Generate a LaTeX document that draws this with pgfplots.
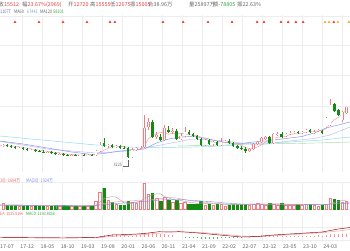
\documentclass[border=0pt]{standalone}
\usepackage{pgfplots}
\usepackage{pgfplotstable}
\pgfplotsset{compat=1.18}
\usepackage{fontspec}
\setmainfont{Liberation Sans}
\newfontfamily\cjk{Noto Sans CJK SC}
\newfontfamily\cjkn[FakeStretch=0.8]{Noto Sans CJK SC}
\definecolor{upc}{HTML}{F07C84}
\definecolor{dnc}{HTML}{148A14}
\definecolor{txt}{HTML}{666666}
\definecolor{redt}{HTML}{E8413C}
\definecolor{grnt}{HTML}{35A043}
\definecolor{gridc}{HTML}{EDEDED}
\definecolor{mafive}{HTML}{F29AA6}
\definecolor{maten}{HTML}{7F8FEA}
\definecolor{matwenty}{HTML}{B4BCF2}
\definecolor{masixty}{HTML}{86D6F2}
\definecolor{maonetwenty}{HTML}{A6DCA6}
\definecolor{orng}{HTML}{F5B041}
% monthly candles: m = months since 2017-01, open high low close
\pgfplotstableread{
m o h l c
5 611.7 659.9 587.6 635.8
9 563.5 587.6 539.4 575.6
12 515.3 539.4 491.2 527.4
16 467.1 491.2 443 479.2
19 418.9 443 394.8 431
22 382.8 418.9 370.7 406.9
24 382.8 406.9 370.7 394.8
26 382.8 418.9 370.7 406.9
28 394.8 515.3 370.7 491.2
29 491.2 708.1 467.1 635.8
31 611.7 659.9 563.5 635.8
33 587.6 635.8 563.5 611.7
37 346.6 563.5 334.6 515.3
38 515.3 587.6 491.2 563.5
39 563.5 611.7 539.4 611.7
40 587.6 1358.8 563.5 1045.5
41 1069.6 1286.5 997.3 1190.1
43 828.6 949.1 780.4 876.8
45 756.3 1117.8 732.2 1045.5
47 949.1 1045.5 900.9 973.2
49 780.4 925 756.3 852.7
50 852.7 1069.6 828.6 949.1
55 635.8 780.4 611.7 756.3
57 659.9 732.2 611.7 708.1
59 635.8 804.5 611.7 708.1
60 708.1 756.3 684 732.2
66 491.2 563.5 467.1 539.4
67 539.4 684 515.3 659.9
68 659.9 732.2 635.8 708.1
69 708.1 828.6 684 804.5
70 780.4 852.7 756.3 828.6
72 684 925 659.9 900.9
73 876.8 949.1 852.7 900.9
75 852.7 925 828.6 900.9
76 900.9 973.2 876.8 925
77 925 973.2 900.9 949.1
79 925 973.2 900.9 949.1
80 949.1 1021.4 925 997.3
82 949.1 997.3 900.9 961.2
83 961.2 1021.4 949.1 997.3
85 1069.6 1310.6 1045.5 1286.5
86 1117.8 1744.4 1093.7 1599.8
89 1238.3 1455.2 1190.1 1431.1
90 1407 1555.5 1383 1551.2
}\upcandles
\pgfplotstableread{
m o h l c
6 635.8 659.9 587.6 611.7
7 611.7 635.8 563.5 587.6
8 587.6 611.7 539.4 563.5
10 575.6 587.6 515.3 539.4
11 539.4 563.5 491.2 515.3
13 527.4 539.4 467.1 491.2
14 491.2 515.3 467.1 479.2
15 479.2 515.3 443 467.1
17 479.2 491.2 418.9 443
18 443 467.1 394.8 418.9
20 431 443 370.7 394.8
21 394.8 418.9 370.7 382.8
23 406.9 418.9 370.7 382.8
25 394.8 418.9 370.7 382.8
27 406.9 418.9 370.7 394.8
30 684 804.5 587.6 611.7
32 635.8 659.9 563.5 587.6
34 611.7 635.8 539.4 575.6
35 575.6 611.7 539.4 563.5
36 563.5 587.6 322.5 346.6
42 1190.1 1238.3 804.5 828.6
44 828.6 900.9 732.2 756.3
46 997.3 1093.7 925 949.1
48 973.2 1021.4 756.3 780.4
51 949.1 997.3 876.8 900.9
52 900.9 925 828.6 852.7
53 852.7 876.8 756.3 780.4
54 780.4 804.5 611.7 635.8
56 756.3 780.4 635.8 659.9
58 708.1 732.2 611.7 635.8
61 732.2 780.4 659.9 684
62 684 708.1 587.6 611.7
63 611.7 635.8 539.4 563.5
64 563.5 611.7 515.3 539.4
65 539.4 587.6 443 491.2
71 828.6 852.7 659.9 684
74 900.9 949.1 804.5 828.6
78 949.1 973.2 900.9 925
81 997.3 1021.4 925 949.1
84 973.2 997.3 900.9 925
87 1623.9 1648 1431.1 1455.2
88 1479.3 1503.4 1334.7 1358.8
}\dncandles
\pgfplotsset{panel/.style={scale only axis, width=350pt, anchor=south west, xmin=4.267, xmax=90.9,
  axis line style={draw=none}, tick style={draw=none}, grid=major, grid style={gridc, line width=0.4pt},
  xtick={9.71,14.66,19.61,24.56,29.51,34.46,39.41,44.36,49.31,54.26,59.21,64.16,69.11,74.06,79.01,83.96,88.91},
  xticklabels={}, yticklabels={}},
  candlebar/.style={draw=none, mark=none, error bars/.cd, y dir=plus, y explicit, error mark=none}}
\begin{document}
\begin{tikzpicture}
% main price panel
\begin{axis}[panel, at={(0pt,78pt)}, height=157pt, ymin=-14.9, ymax=3768.8, ytick={3744.7,3045.8,2322.8,1575.7}]
\addplot[maonetwenty, line width=0.45pt, mark=none] coordinates {(48,612)(60,636)(66,660)(78,672)(90.9,708)};
\addplot[masixty, line width=0.45pt, mark=none] coordinates {(4.3,852.7)(12,780.4)(20,708.1)(28,635.8)(36,587.6)(44,575.6)(52,587.6)(60,615)(66,672)(76,708)(84,756)(90.9,829)};
\addplot[matwenty, line width=0.45pt, mark=none] coordinates {(4.3,720.2)(16,539.4)(28,443)(36,491.2)(44,635.8)(52,780.4)(60,732.2)(68,635.8)(76,732.2)(82,792.5)(86,876.8)(90.9,1069.6)};
\addplot[maten, line width=0.45pt, mark=none] coordinates {(4.3,732.2)(10,659.9)(16,563.5)(22,467.1)(27,406.9)(30,431)(34,491.2)(37,515.3)(40,539.4)(43,684)(46,780.4)(49,828.6)(52,840.7)(55,804.5)(58,732.2)(61,684)(64,672)(67,708.1)(70,732.2)(73,768.3)(76,804.5)(79,840.6)(82,925)(85,1045.5)(88,1117.8)(90.9,1190.1)};
\addplot[mafive, line width=0.45pt, mark=none] coordinates {(4.3,623.7)(7,611.7)(9,594.8)(11,556.3)(13,529.8)(15,496)(17,471.9)(19,447.8)(21,414.1)(23,399.6)(25,390)(27,394.8)(28,414.1)(29,462.3)(30,508.1)(31,553.9)(32,592.4)(33,616.5)(34,604.5)(35,594.8)(36,537)(37,522.5)(38,512.9)(39,520.1)(40,616.5)(41,785.2)(42,847.9)(43,910.5)(44,939.5)(45,939.5)(46,891.3)(47,920.2)(48,900.9)(49,920.2)(50,900.9)(51,891.3)(52,867.2)(53,867.2)(54,823.8)(55,785.2)(56,737)(57,708.1)(58,679.2)(59,693.6)(60,688.8)(61,693.6)(62,674.4)(63,659.9)(64,626.2)(65,578)(66,549)(67,558.7)(68,587.6)(69,640.6)(70,708.1)(71,737)(72,785.2)(73,823.8)(74,828.6)(75,843.1)(76,891.3)(77,900.9)(78,905.7)(79,929.8)(80,949.1)(81,953.9)(82,956.3)(83,985.3)(84,980.4)(85,1028.6)(86,1149.1)(87,1243.1)(88,1301)(89,1402.2)(90,1464.8)};
% up candles: wick, pink body, white inside
\addplot[candlebar, error bar style={draw=upc, line width=0.4pt}] table[x=m, y=l, y error plus expr=\thisrow{h}-\thisrow{l}] {\upcandles};
\addplot[candlebar, error bar style={draw=upc, line width=2.5pt}] table[x=m, y=o, y error plus expr=\thisrow{c}-\thisrow{o}] {\upcandles};
\addplot[candlebar, error bar style={draw=white, line width=1.7pt, shorten <=0.4pt, shorten >=0.4pt}] table[x=m, y=o, y error plus expr=\thisrow{c}-\thisrow{o}] {\upcandles};
% down candles: wick and filled body
\addplot[candlebar, error bar style={draw=dnc, line width=0.4pt}] table[x=m, y=l, y error plus expr=\thisrow{h}-\thisrow{l}] {\dncandles};
\addplot[candlebar, error bar style={draw=dnc, line width=2.5pt}] table[x=m, y=c, y error plus expr=\thisrow{o}-\thisrow{c}] {\dncandles};
\addplot[only marks, mark=triangle*, mark size=1.1pt, color=redt] coordinates {(7.98,3600)(13.92,3600)(19.86,3600)(25.8,3600)(31.5,3600)(32.7,3600)(44.6,3600)(49.6,3600)(55.75,3600)(61.7,3600)(67.9,3600)(69.6,3600)(73.8,3600)(75.6,3600)(77.5,3600)(79.3,3600)(86.9,3600)};
\addplot[only marks, mark=triangle*, mark size=1.1pt, color=orng] coordinates {(84.7,3600)(85.7,3600)(87.9,3600)(90.6,3600)};
\draw[txt, line width=0.3pt] (axis cs:36,274.3) -- (axis cs:36,129.7) -- (axis cs:34.7,129.7);
\node[anchor=east, inner sep=0.5pt, font=\cjkn\fontsize{4.6}{5}\selectfont, text=txt] at (axis cs:34.6,153.8) {3225};
\end{axis}
% volume panel
\begin{axis}[panel, at={(0pt,41pt)}, height=27pt, ymin=0, ymax=9450, ytick={0,9450}]
\addplot[ybar, bar width=0.62, bar shift=0pt, draw=upc, fill=white, line width=0.4pt] coordinates {(5,2100)(9,1050)(12,1050)(16,1050)(19,1050)(22,1050)(24,1050)(26,1050)(28,2800)(29,5950)(31,3150)(33,1750)(37,2450)(38,2100)(39,2800)(40,9100)(41,5250)(43,3850)(45,4200)(47,2450)(49,2100)(50,2450)(55,1400)(57,1400)(59,1750)(60,1050)(66,1400)(67,1750)(68,2100)(69,1750)(70,1400)(72,1750)(73,1400)(75,1400)(76,1400)(77,1400)(79,1400)(80,1750)(82,1400)(83,1050)(85,1750)(86,3850)(89,2450)(90,2800)};
\addplot[ybar, bar width=0.62, bar shift=0pt, draw=dnc, fill=dnc, line width=0.4pt] coordinates {(6,1400)(7,1400)(8,1400)(10,1050)(11,1400)(13,1400)(14,1050)(15,1050)(17,1050)(18,1400)(20,1400)(21,1050)(23,1050)(25,1050)(27,1050)(30,7350)(32,2450)(34,1400)(35,1400)(36,2800)(42,5600)(44,2800)(46,3150)(48,3150)(51,1750)(52,1750)(53,1750)(54,2800)(56,1750)(58,1750)(61,1400)(62,1750)(63,1750)(64,1750)(65,1750)(71,2100)(74,2100)(78,1750)(81,1750)(84,1400)(87,3500)(88,3150)};
\addplot[gray!70, line width=0.4pt, mark=none] coordinates {(4.3,1470)(9,1470)(12,1190)(18,1120)(24,1120)(27,1050)(28,1400)(29,2380)(30,3640)(31,4060)(32,4340)(33,4130)(34,3220)(35,2030)(36,1960)(37,1960)(38,2310)(39,2590)(40,3850)(41,4340)(42,4970)(43,5320)(44,5320)(45,4340)(46,3920)(47,3290)(48,3150)(49,3010)(50,2660)(51,2380)(52,2240)(53,1960)(54,2100)(55,1890)(56,1890)(58,1820)(60,1540)(62,1540)(64,1680)(66,1680)(68,1750)(70,1680)(72,1820)(74,1750)(76,1610)(78,1610)(80,1540)(82,1610)(84,1470)(85,1470)(86,1890)(87,2310)(88,2730)(89,2940)(90,3150)};
\addplot[mafive, line width=0.4pt, mark=none] coordinates {(4.3,1330)(15,1190)(25,1120)(28,1330)(30,1925)(33,2520)(36,2800)(38,2940)(40,3080)(42,3360)(44,3640)(46,4025)(48,3850)(50,3255)(52,2800)(54,2450)(56,2170)(58,1925)(60,1750)(64,1610)(68,1680)(72,1750)(76,1680)(80,1575)(84,1540)(86,1750)(88,2100)(90.9,2275)};
\addplot[maten, line width=0.4pt, mark=none] coordinates {(4.3,1330)(20,1190)(28,1260)(32,1750)(36,2275)(40,2625)(44,3150)(48,3430)(52,3010)(56,2625)(60,2100)(64,1750)(68,1680)(72,1680)(76,1680)(80,1645)(84,1575)(88,1820)(90.9,1925)};
\end{axis}
% MACD panel
\begin{axis}[panel, at={(0pt,8pt)}, height=26pt, ymin=-5, ymax=21, ytick={10,-3},
  extra x ticks={6,11,16,21,26,31,36,41,46,51,56,61,66,71,76,81,86,91},
  extra x tick labels={17-07,17-12,18-05,18-10,19-03,19-08,20-01,20-06,20-11,21-04,21-09,22-02,22-07,22-12,23-05,23-10,24-03,24-08},
  extra x tick style={grid=none, xticklabel style={font=\cjk\fontsize{5.3}{6}\selectfont, text=txt, anchor=base, yshift=-6.3pt, inner sep=0pt}}]
\addplot[ycomb, redt!55, line width=0.4pt, mark=none] coordinates {(29,1)(30,2)(31,2.5)(32,3)(33,3)(34,2.5)(35,2)(36,1)(37,1.5)(38,2)(39,2.5)(40,4)(41,4.5)(42,4)(43,3.5)(44,3)(45,3)(46,2.5)(47,2)(66,0.5)(67,1)(68,1.5)(69,2)(70,2)(71,1.5)(72,2)(73,2)(74,1.5)(75,1.5)(76,1.5)(77,1.5)(78,1.5)(79,1.5)(80,1.5)(81,1.5)(82,1.5)(83,2)(84,1.5)(85,2)(86,3)(87,3)(88,3)(89,3)(90,3)};
\addplot[ycomb, grnt!80, line width=0.4pt, mark=none] coordinates {(50,-0.5)(51,-1)(52,-1)(53,-1.2)(54,-1.5)(55,-1.5)(56,-1.5)(57,-1.5)(58,-1.5)(59,-1.2)(60,-1.2)(61,-1)(62,-1)(63,-1)(64,-0.8)};
\addplot[mafive, line width=0.45pt, mark=none] coordinates {(4.3,0)(20,-0.5)(28,-0.8)(32,0.5)(36,1.8)(40,2.5)(44,4)(48,5)(52,5)(56,4)(60,2.5)(64,1)(68,0.3)(72,1.2)(76,2.3)(80,3.3)(84,4.3)(88,6)(90.9,7.5)};
\addplot[red!55!black, line width=0.45pt, mark=none] coordinates {(4.3,-0.5)(20,-1)(28,-0.5)(32,2)(36,2.5)(40,3.5)(44,5.5)(48,5.5)(52,4.5)(56,3)(60,1.5)(64,0)(68,0.5)(72,2)(76,3)(80,4)(84,5)(88,8)(90.9,9.5)};
\end{axis}
% header texts
\begin{scope}[every node/.style={anchor=base west, inner sep=0pt, font=\cjk\fontsize{5.4}{6}\selectfont}]
\node at (-1.5pt,243.5pt) {\textcolor{txt}{收}\textcolor{redt}{15512}};
\node at (22pt,243.5pt) {\textcolor{txt}{幅}\textcolor{redt}{23.67\%(2969)}};
\node at (68pt,243.5pt) {\textcolor{txt}{开}\textcolor{redt}{12720}};
\node at (90pt,243.5pt) {\textcolor{txt}{高}\textcolor{redt}{15555}};
\node at (110pt,243.5pt) {\textcolor{txt}{低}\textcolor{redt}{12675}};
\node at (130pt,243.5pt) {\textcolor{txt}{振}\textcolor{redt}{15005}};
\node at (148pt,243.5pt) {\textcolor{txt}{合38.96万}};
\node at (189pt,243.5pt) {\textcolor{txt}{量25897万}};
\node at (213pt,243.5pt) {\textcolor{txt}{额}\textcolor{grnt}{-78805}};
\node at (237pt,243.5pt) {\textcolor{txt}{振22.63\%}};
\end{scope}
\begin{scope}[every node/.style={anchor=base west, inner sep=0pt, font=\cjkn\fontsize{4.8}{5}\selectfont}]
\node at (0pt,236.7pt) {\textcolor{maten!80!black}{1107T}};
\node at (14pt,236.7pt) {\textcolor{txt}{MA60}};
\node at (27pt,236.7pt) {\textcolor{masixty!80!black}{67441}};
\node at (40pt,236.7pt) {\textcolor{txt}{MA120}};
\node at (53pt,236.7pt) {\textcolor{grnt}{58101}};
\node at (0pt,67.7pt) {\textcolor{redt!80}{10): 1694万}};
\node at (26pt,67.7pt) {\textcolor{maten}{MA(20): 1924万}};
\end{scope}
\begin{scope}[every node/.style={anchor=base west, inner sep=0pt, font=\cjkn\fontsize{4.5}{5}\selectfont}]
\node at (0pt,35pt) {\textcolor{redt!80}{EA: 1025.0166}};
\node at (26pt,35pt) {\textcolor{grnt}{MACD: 1193.8858}};
\end{scope}
\pgfresetboundingbox
\useasboundingbox (0pt,0pt) rectangle (350pt,250pt);
\end{tikzpicture}
\end{document}
